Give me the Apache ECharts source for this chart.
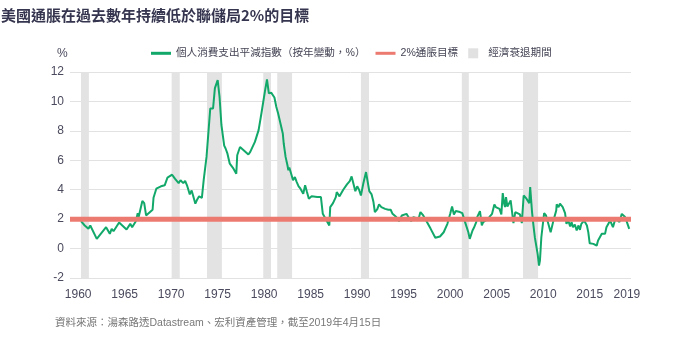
<!DOCTYPE html>
<html>
<head>
<meta charset="utf-8">
<script src="https://cdn.jsdelivr.net/npm/echarts@6/dist/echarts.min.js"></script>
<style>
  html, body { margin: 0; padding: 0; background: #fff; }
  #chart { width: 682px; height: 345px; }
</style>
</head>
<body>
<div id="chart"></div>
<script>
// PCE deflator, year-on-year change (%), sampled as decimal years
const pceYears = [
  1960.3, 1960.7, 1961.1, 1961.3, 1962.0, 1963.0, 1963.4, 1963.6, 1963.8, 1964.4,
  1965.2, 1965.6, 1965.8, 1966.2, 1966.4, 1966.5, 1966.9, 1967.1, 1967.3, 1967.5,
  1968.0, 1968.1, 1968.4, 1968.9, 1969.3, 1969.4, 1969.6, 1969.8, 1970.1, 1970.4,
  1970.8, 1971.0, 1971.3, 1971.5, 1971.7, 1972.0, 1972.2, 1972.6, 1972.8, 1973.0,
  1973.3, 1973.5, 1973.8, 1974.2, 1974.5, 1974.7, 1975.0, 1975.2, 1975.4, 1975.6,
  1975.7, 1975.85, 1975.95, 1976.05, 1976.3, 1976.7, 1977.0, 1977.1, 1977.4, 1977.7,
  1978.3, 1978.5, 1979.0, 1979.4, 1979.7, 1980.1, 1980.3, 1980.5, 1980.75, 1980.9,
  1981.1, 1981.2, 1981.3, 1981.4, 1981.5, 1981.7, 1982.0, 1982.1, 1982.2, 1982.3,
  1982.5, 1982.6, 1982.7, 1982.9, 1983.1, 1983.3, 1983.5, 1983.7, 1983.9, 1984.2,
  1984.4, 1984.6, 1984.8, 1985.1, 1985.3, 1985.7, 1986.1, 1986.3, 1986.7, 1987.0,
  1987.1, 1987.4, 1987.7, 1987.8, 1988.1, 1988.5, 1988.9, 1989.2, 1989.4, 1989.8,
  1990.0, 1990.2, 1990.4, 1990.65, 1990.95, 1991.3, 1991.55, 1991.75, 1991.9, 1992.15,
  1992.35, 1992.6, 1993.0, 1993.35, 1993.6, 1993.8, 1994.2, 1994.5, 1994.8, 1995.0,
  1995.3, 1995.55, 1995.8, 1996.05, 1996.6, 1996.8, 1997.1, 1997.5, 1997.9, 1998.4,
  1998.9, 1999.3, 1999.7, 2000.0, 2000.2, 2000.4, 2000.6, 2001.05, 2001.3, 2001.6,
  2001.95, 2002.1, 2002.4, 2002.55, 2002.8, 2002.9, 2003.2, 2003.4, 2003.55, 2003.9,
  2004.2, 2004.5, 2004.75, 2004.9, 2005.05, 2005.3, 2005.5, 2005.65, 2005.8, 2005.9,
  2006.0, 2006.15, 2006.3, 2006.5, 2006.6, 2006.8, 2007.0, 2007.15, 2007.5, 2007.7,
  2007.9, 2008.2, 2008.5, 2008.6, 2008.8, 2008.95, 2009.1, 2009.4, 2009.55, 2009.65,
  2009.8, 2010.1, 2010.3, 2010.55, 2010.8, 2011.1, 2011.4, 2011.45, 2011.65, 2011.8,
  2012.1, 2012.35, 2012.5, 2012.7, 2012.9, 2013.05, 2013.2, 2013.4, 2013.6, 2013.8,
  2013.95, 2014.1, 2014.4, 2014.7, 2014.85, 2015.0, 2015.4, 2015.75, 2015.9, 2016.3,
  2016.65, 2016.8, 2017.0, 2017.2, 2017.35, 2017.5, 2017.7, 2017.95, 2018.2, 2018.45,
  2018.6, 2018.8, 2019.0, 2019.25
];
const pceValues = [
  1.86, 1.57, 1.34, 1.57, 0.66, 1.45, 1.0, 1.34, 1.18, 1.77,
  1.3, 1.68, 1.45, 1.86, 2.4, 2.14, 3.23, 3.09, 2.25, 2.36,
  2.64, 3.45, 4.07, 4.23, 4.3, 4.23, 4.82, 4.73, 5.02, 4.75,
  4.45, 4.64, 4.45, 4.6, 4.3, 3.68, 3.95, 3.05, 3.34, 3.55,
  3.45, 4.68, 6.23, 9.52, 9.52, 10.9, 11.45, 10.3, 8.4, 8.27,
  7.0, 6.8, 6.85, 6.45, 5.77, 5.43, 5.09, 6.34, 6.9, 6.73,
  6.39, 6.57, 7.25, 8.05, 9.18, 10.77, 11.5, 10.55, 10.6, 10.73,
  10.27, 10.32, 9.64, 9.75, 9.18, 9.07, 7.82, 7.14, 7.1, 6.23,
  5.66, 5.32, 5.5, 5.09, 4.64, 4.86, 4.52, 4.23, 4.07, 3.73,
  4.3, 3.84, 3.39, 3.55, 3.43, 3.5, 3.5, 2.36, 1.91, 1.57,
  2.82, 3.09, 3.5, 3.84, 3.55, 4.0, 4.36, 4.59, 4.9, 3.9,
  4.23, 4.0, 3.61, 4.4, 5.2, 3.9, 3.68, 3.16, 2.48, 2.66,
  3.0, 2.82, 2.7, 2.64, 2.64, 2.36, 2.14, 1.86, 2.25, 2.2,
  2.36, 2.1, 1.86, 2.14, 2.02, 2.48, 2.25, 1.8, 1.34, 0.73,
  0.82, 1.11, 1.68, 2.36, 2.86, 2.32, 2.55, 2.48, 2.41, 1.8,
  1.11, 0.66, 1.23, 1.41, 1.8, 2.14, 2.55, 1.57, 1.8, 1.95,
  2.14, 2.36, 3.0, 2.82, 2.7, 2.7, 2.32, 3.77, 3.05, 2.82,
  3.5, 2.86, 2.82, 3.27, 3.39, 1.73, 2.48, 2.59, 2.32, 1.73,
  3.61, 3.39, 3.09, 4.18, 2.48, 1.57, 0.77, -0.36, -1.16, -0.82,
  0.77, 2.41, 2.25, 1.68, 1.11, 1.9, 2.59, 3.0, 2.82, 3.05,
  2.82, 2.41, 1.68, 1.9, 1.5, 1.8, 1.45, 1.64, 1.23, 1.57,
  1.27, 1.68, 1.9, 1.57, 1.1, 0.36, 0.32, 0.2, 0.55, 1.0,
  1.0, 1.45, 1.34, 1.9, 1.77, 1.45, 1.9, 1.95, 1.8, 2.36,
  2.25, 2.14, 1.8, 1.34
];

// Recession periods (start, end) in decimal years
const recessionStarts = [1960.3, 1970.05, 1973.85, 1979.9, 1981.4, 1990.4, 2001.25, 2007.83];
const recessionEnds   = [1961.15, 1970.92, 1975.45, 1980.73, 1983.0, 1991.27, 2002.0, 2009.45];

const targetRate = 2;
const axisMinYear = 1959.12;
const axisMaxYear = 2019.44;
const xTickLabels = [1960, 1965, 1970, 1975, 1980, 1985, 1990, 1995, 2000, 2005, 2010, 2015, 2019];

const seriesNames = ['個人消費支出平減指數（按年變動，%）', '2%通脹目標', '經濟衰退期間'];
const titleText = '美國通脹在過去數年持續低於聯儲局2%的目標';
const sourceText = '資料來源：湯森路透Datastream、宏利資產管理，截至2019年4月15日';

const FONT = '"Liberation Sans", Arial, "Noto Sans CJK TC", sans-serif';
const LABEL_COLOR = '#4a4a5e';

const chart = echarts.init(document.getElementById('chart'), null, { renderer: 'canvas' });

const pceData = pceYears.map((y, i) => [y, pceValues[i]]);
const recessionAreas = recessionStarts.map((s, i) => [{ xAxis: s }, { xAxis: recessionEnds[i] }]);

chart.setOption({
  animation: false,
  backgroundColor: '#ffffff',
  textStyle: { fontFamily: FONT },
  title: [
    {
      text: titleText,
      left: 1, top: 8, padding: 0,
      textStyle: { fontSize: 15, fontWeight: 'bold', color: '#35354f', fontFamily: '"Noto Sans CJK TC", sans-serif' }
    },
    {
      text: '%',
      left: 57, top: 48, padding: 0,
      textStyle: { fontSize: 12, fontWeight: 'normal', color: LABEL_COLOR, fontFamily: FONT }
    },
    {
      text: sourceText,
      left: 55, top: 318, padding: 0,
      textStyle: { fontSize: 10.5, fontWeight: 'normal', color: '#777777', fontFamily: FONT }
    }
  ],
  legend: {
    left: 151, top: 48, padding: 0,
    itemWidth: 20, itemHeight: 10, itemGap: 10,
    textStyle: { fontSize: 10.6, color: '#444455', fontFamily: FONT },
    data: [
      { name: seriesNames[0], icon: 'path://M0,0H20V3H0Z' },
      { name: seriesNames[1], icon: 'path://M0,0H20V3H0Z' },
      { name: seriesNames[2], icon: 'path://M0,0H10V10H0Z' }
    ]
  },
  grid: { left: 70, right: 51, top: 72, bottom: 67, containLabel: false },
  xAxis: {
    type: 'value',
    min: axisMinYear, max: axisMaxYear,
    splitLine: { show: false },
    axisLine: { show: false },
    axisTick: { show: false },
    axisLabel: {
      customValues: xTickLabels,
      formatter: v => String(Math.round(v)),
      color: LABEL_COLOR, fontSize: 12, margin: 11
    }
  },
  yAxis: {
    type: 'value',
    min: -2, max: 12, interval: 2,
    axisLine: { show: false },
    axisTick: { show: false },
    splitLine: { lineStyle: { color: '#e2e2e2', width: 1 } },
    axisLabel: { color: LABEL_COLOR, fontSize: 12, margin: 6 }
  },
  series: [
    {
      name: seriesNames[2],
      type: 'line',
      data: [],
      itemStyle: { color: '#e1e1e1' },
      z: 1,
      markArea: {
        silent: true,
        itemStyle: { color: '#e3e3e3' },
        data: recessionAreas
      }
    },
    {
      name: seriesNames[0],
      type: 'line',
      data: pceData,
      showSymbol: false,
      symbol: 'none',
      itemStyle: { color: '#12a86a' },
      lineStyle: { color: '#12a86a', width: 2 },
      z: 3
    },
    {
      name: seriesNames[1],
      type: 'line',
      data: [[axisMinYear, targetRate], [axisMaxYear, targetRate]],
      showSymbol: false,
      symbol: 'none',
      itemStyle: { color: '#ec7a70' },
      lineStyle: { color: '#ec7a70', width: 5 },
      z: 4
    }
  ]
});
</script>
</body>
</html>
